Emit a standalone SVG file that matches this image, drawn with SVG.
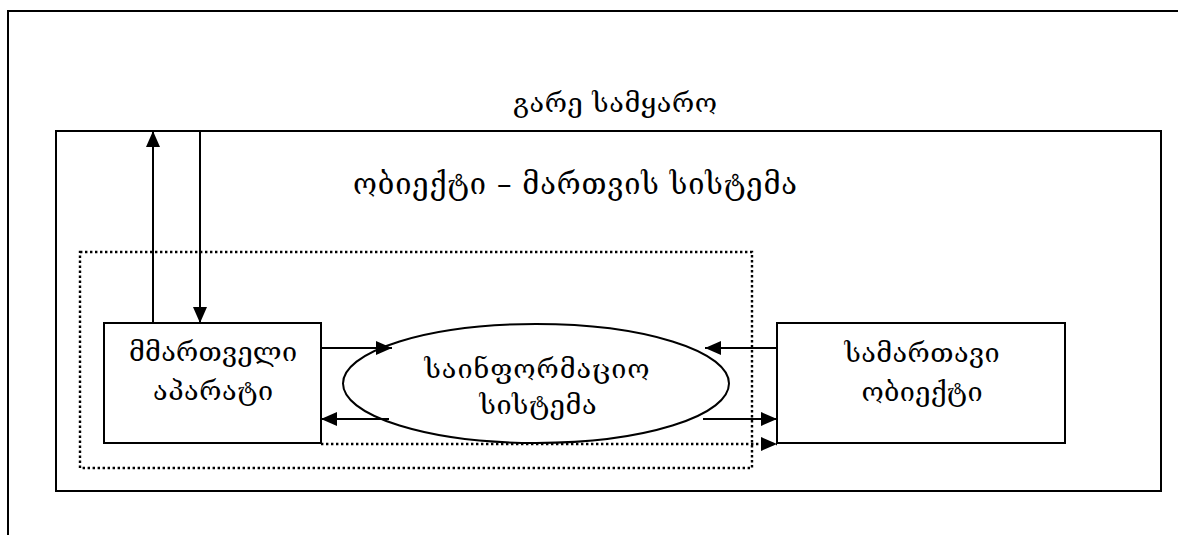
<svg xmlns="http://www.w3.org/2000/svg" width="1178" height="535" viewBox="0 0 1178 535">
<style>
.ln{fill:none;stroke:#000;stroke-width:2}
.dot{fill:none;stroke:#000;stroke-width:2.4;stroke-dasharray:2.4 2.6}
.t{font-family:"DejaVu Serif","DejaVu Sans",serif;font-size:27px;fill:#000;text-anchor:middle}
.big{font-size:29px}
</style>
<defs>
<marker id="ah" viewBox="0 0 16 14" refX="16" refY="7" markerWidth="16" markerHeight="14" markerUnits="userSpaceOnUse" orient="auto">
<path d="M0,0 L16,7 L0,14 Z" fill="#000"/>
</marker>
</defs>
<rect width="1178" height="535" fill="#fff"/>
<g id="outer-world">
<path class="ln" d="M8,535 V11 H1178"/>
<text class="t" x="615" y="112" textLength="204">გარე სამყარო</text>
</g>
<g id="control-system">
<rect class="ln" x="56" y="131" width="1105" height="360"/>
<text class="t big" x="575" y="194" textLength="444">ობიექტი – მართვის სისტემა</text>
</g>
<g id="info-boundary">
<rect class="dot" x="80" y="252" width="672" height="216"/>
</g>
<g id="control-apparatus">
<rect class="ln" x="104" y="323" width="217" height="120"/>
<text class="t" x="213" y="361" textLength="168">მმართველი</text>
<text class="t" x="213" y="400" textLength="120">აპარატი</text>
</g>
<g id="info-system">
<ellipse class="ln" cx="536" cy="383.5" rx="193" ry="59.5"/>
<text class="t" x="537" y="378" textLength="225">საინფორმაციო</text>
<text class="t" x="538" y="414" textLength="117">სისტემა</text>
</g>
<g id="managed-object">
<rect class="ln" x="777" y="323" width="288" height="120"/>
<text class="t" x="922" y="362" textLength="155">სამართავი</text>
<text class="t" x="922" y="401" textLength="121">ობიექტი</text>
</g>
<g id="connectors">
<line class="ln" x1="153" y1="323" x2="153" y2="131" marker-end="url(#ah)"/>
<line class="ln" x1="200" y1="131" x2="200" y2="323" marker-end="url(#ah)"/>
<line class="ln" x1="321" y1="348" x2="392" y2="348" marker-end="url(#ah)"/>
<line class="ln" x1="389" y1="419" x2="321" y2="419" marker-end="url(#ah)"/>
<line class="ln" x1="777" y1="348" x2="705" y2="348" marker-end="url(#ah)"/>
<line class="ln" x1="703" y1="419" x2="777" y2="419" marker-end="url(#ah)"/>
<line class="dot" x1="321" y1="444" x2="777" y2="444" marker-end="url(#ah)"/>
</g>
</svg>
